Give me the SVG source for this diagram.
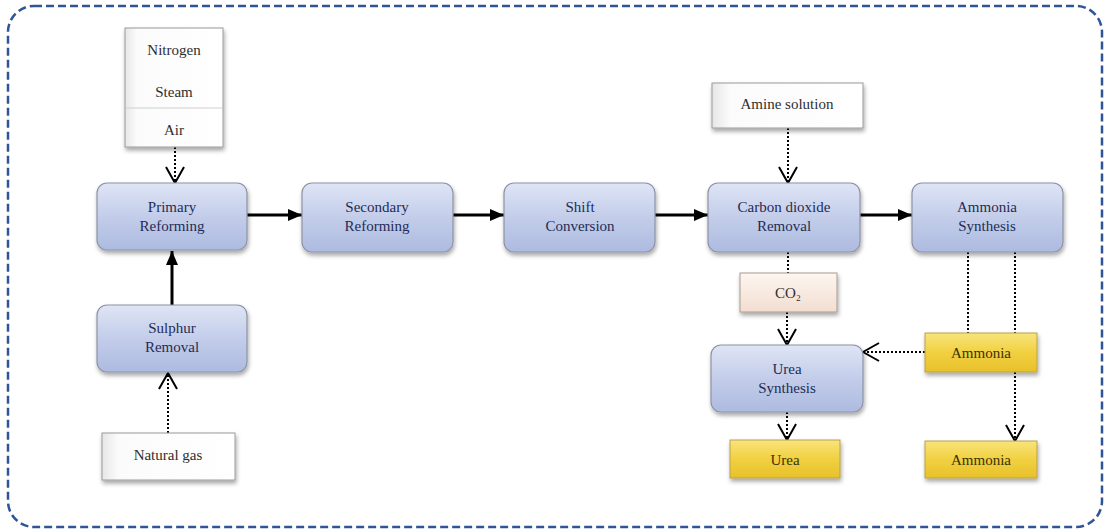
<svg xmlns="http://www.w3.org/2000/svg" width="1105" height="532" viewBox="0 0 1105 532">
<defs>
<linearGradient id="gBlue" x1="0" y1="0" x2="0" y2="1">
<stop offset="0" stop-color="#dfe5f5"/><stop offset="0.5" stop-color="#c3cdea"/><stop offset="1" stop-color="#adbbe0"/>
</linearGradient>
<linearGradient id="gWhite" x1="0" y1="0" x2="1" y2="0">
<stop offset="0" stop-color="#e6e6e6"/><stop offset="0.12" stop-color="#fbfbfb"/><stop offset="1" stop-color="#ffffff"/>
</linearGradient>
<linearGradient id="gYellow" x1="0" y1="0" x2="0" y2="1">
<stop offset="0" stop-color="#f8e47c"/><stop offset="0.5" stop-color="#f1d041"/><stop offset="1" stop-color="#e8c12a"/>
</linearGradient>
<linearGradient id="gPeach" x1="0" y1="0" x2="0" y2="1">
<stop offset="0" stop-color="#fdf6f0"/><stop offset="1" stop-color="#f3ddd0"/>
</linearGradient>
<filter id="sh" x="-10%" y="-10%" width="130%" height="140%">
<feDropShadow dx="1" dy="3" stdDeviation="2" flood-color="#000" flood-opacity="0.35"/>
</filter>
<marker id="solid" viewBox="0 0 14 12" refX="14" refY="6" markerWidth="14" markerHeight="12" markerUnits="userSpaceOnUse" orient="auto">
<path d="M0,0 L14,6 L0,12 Z" fill="#000"/>
</marker>
<marker id="open" viewBox="0 0 18 20" refX="17" refY="10" markerWidth="18" markerHeight="20" markerUnits="userSpaceOnUse" orient="auto">
<path d="M1,1 L17,10 L1,19" fill="none" stroke="#000" stroke-width="2"/>
</marker>
</defs>
<style>
.proc{fill:url(#gBlue);stroke:#8c93a6;stroke-width:1.2;filter:url(#sh)}
.inp{fill:url(#gWhite);stroke:#9a9a9a;stroke-width:1;filter:url(#sh)}
.yel{fill:url(#gYellow);stroke:#b9a24a;stroke-width:1;filter:url(#sh)}
.peach{fill:url(#gPeach);stroke:#a89a92;stroke-width:1;filter:url(#sh)}
text{font-family:"Liberation Serif","Times New Roman",serif;font-size:15px;text-anchor:middle}
.tp{fill:#1f2c55}
.ti{fill:#2e2e2e}
.ty{fill:#3a3206}
.sl{stroke:#000;stroke-width:3;fill:none;marker-end:url(#solid)}
.dl{stroke:#000;stroke-width:2;stroke-dasharray:2,2;fill:none}
.da{stroke:#000;stroke-width:2;stroke-dasharray:2,2;fill:none;marker-end:url(#open)}
</style>
<rect x="8" y="6" width="1094" height="521" rx="26" ry="26" fill="none" stroke="#2f5597" stroke-width="2.5" stroke-dasharray="8,4"/>

<g id="connectors">
<line class="da" x1="175" y1="147" x2="175" y2="183"/>
<line class="sl" x1="172" y1="305" x2="172" y2="251"/>
<line class="da" x1="168" y1="433" x2="168" y2="373"/>
<line class="sl" x1="247" y1="215" x2="302" y2="215"/>
<line class="sl" x1="453" y1="215" x2="504" y2="215"/>
<line class="sl" x1="655" y1="215" x2="708" y2="215"/>
<line class="sl" x1="860" y1="215" x2="912" y2="215"/>
<line class="da" x1="788" y1="128" x2="788" y2="183"/>
<line class="dl" x1="788" y1="252" x2="788" y2="273"/>
<line class="da" x1="787" y1="312" x2="787" y2="345"/>
<line class="da" x1="787" y1="412" x2="787" y2="440"/>
<line class="dl" x1="968" y1="252" x2="968" y2="333"/>
<line class="dl" x1="1015" y1="252" x2="1015" y2="333"/>
<line class="da" x1="925" y1="352" x2="863" y2="352"/>
<line class="da" x1="1015" y1="372" x2="1015" y2="441"/>
</g>

<g id="n-inputs">
<rect class="inp" x="125" y="28" width="98" height="119"/>
<line x1="126" y1="108" x2="222" y2="108" stroke="#cfcfcf" stroke-width="1"/>
<text class="ti" x="174" y="55">Nitrogen</text>
<text class="ti" x="174" y="97">Steam</text>
<text class="ti" x="174" y="135">Air</text>
</g>
<g id="n-primary">
<rect class="proc" x="97" y="183" width="150" height="67" rx="10"/>
<text class="tp" x="172" y="212">Primary</text>
<text class="tp" x="172" y="231">Reforming</text>
</g>
<g id="n-sulphur">
<rect class="proc" x="97" y="305" width="150" height="67" rx="10"/>
<text class="tp" x="172" y="333">Sulphur</text>
<text class="tp" x="172" y="352">Removal</text>
</g>
<g id="n-natgas">
<rect class="inp" x="102" y="433" width="133" height="47"/>
<text class="ti" x="168" y="460">Natural gas</text>
</g>
<g id="n-secondary">
<rect class="proc" x="302" y="183" width="151" height="69" rx="10"/>
<text class="tp" x="377" y="212">Secondary</text>
<text class="tp" x="377" y="231">Reforming</text>
</g>
<g id="n-shift">
<rect class="proc" x="504" y="183" width="151" height="69" rx="10"/>
<text class="tp" x="580" y="212">Shift</text>
<text class="tp" x="580" y="231">Conversion</text>
</g>
<g id="n-amine">
<rect class="inp" x="712" y="83" width="151" height="45"/>
<text class="ti" x="787" y="109">Amine solution</text>
</g>
<g id="n-co2removal">
<rect class="proc" x="708" y="183" width="152" height="69" rx="10"/>
<text class="tp" x="784" y="212">Carbon dioxide</text>
<text class="tp" x="784" y="231">Removal</text>
</g>
<g id="n-ammoniasyn">
<rect class="proc" x="912" y="183" width="151" height="69" rx="10"/>
<text class="tp" x="987" y="212">Ammonia</text>
<text class="tp" x="987" y="231">Synthesis</text>
</g>
<g id="n-co2">
<rect class="peach" x="740" y="273" width="97" height="39"/>
<text class="ti" x="788" y="298">CO₂</text>
</g>
<g id="n-ureasyn">
<rect class="proc" x="711" y="345" width="152" height="67" rx="10"/>
<text class="tp" x="787" y="374">Urea</text>
<text class="tp" x="787" y="393">Synthesis</text>
</g>
<g id="n-urea">
<rect class="yel" x="730" y="440" width="110" height="38"/>
<text class="ty" x="785" y="465">Urea</text>
</g>
<g id="n-ammonia1">
<rect class="yel" x="925" y="333" width="112" height="39"/>
<text class="ty" x="981" y="358">Ammonia</text>
</g>
<g id="n-ammonia2">
<rect class="yel" x="925" y="441" width="112" height="37"/>
<text class="ty" x="981" y="465">Ammonia</text>
</g>
</svg>
